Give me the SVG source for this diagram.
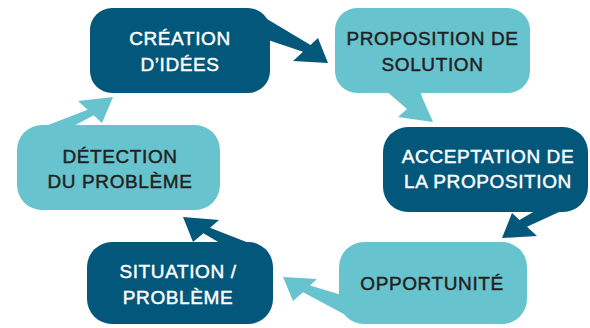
<svg xmlns="http://www.w3.org/2000/svg" width="590" height="328" viewBox="0 0 590 328">
<style>
.dark{fill:#03577A}
.light{fill:#67C3CE}
text{font-family:"Liberation Sans",Arial,sans-serif;font-size:19px;letter-spacing:0.6px;text-anchor:middle;stroke-width:0.45px}
.tw{fill:#FFFFFF;stroke:#FFFFFF}
.tk{fill:#231F20;stroke:#231F20}
</style>
<rect width="590" height="328" fill="#FFFFFF"/>
<g id="connectors">
<polygon class="dark" points="252,10 310.5,44.9 318,38 328,63 293,61 303,51.8 268,40"/>
<polygon class="light" points="385,90 407,109 398,117 433,122 422,97 420,90"/>
<polygon class="dark" points="540,208 519.5,220 512,213 502,238 537,236 527,226.8 570,207"/>
<polygon class="light" points="345,296 310,285.6 317,279 283,277 293,301 303,292.2 355,320"/>
<polygon class="dark" points="262,248 210,227.7 219,220 183,217 193,242 203.4,233.2 225,246"/>
<polygon class="light" points="30,132 87.6,109.8 78,101 113,97 102,123 93.6,115.3 70,128"/>
</g>
<g id="creation">
<rect class="dark" x="90" y="8" width="180" height="85" rx="22"/>
<text class="tw" x="180" y="45">CRÉATION</text>
<text class="tw" x="180" y="70.5">D’IDÉES</text>
</g>
<g id="proposition">
<rect class="light" x="335" y="8" width="195" height="85" rx="22"/>
<text class="tk" x="432.5" y="45">PROPOSITION DE</text>
<text class="tk" x="432.5" y="70.5">SOLUTION</text>
</g>
<g id="acceptation">
<rect class="dark" x="383" y="127" width="205" height="85" rx="25"/>
<text class="tw" x="488" y="163.3">ACCEPTATION DE</text>
<text class="tw" x="488" y="188.3">LA PROPOSITION</text>
</g>
<g id="opportunite">
<rect class="light" x="339" y="242" width="188" height="82" rx="25"/>
<text class="tk" x="432" y="290">OPPORTUNITÉ</text>
</g>
<g id="situation">
<rect class="dark" x="87" y="242" width="186" height="82" rx="25"/>
<text class="tw" x="178" y="278.3">SITUATION /</text>
<text class="tw" x="178" y="304">PROBLÈME</text>
</g>
<g id="detection">
<rect class="light" x="17" y="125" width="203" height="85" rx="25"/>
<text class="tk" x="120" y="163.3">DÉTECTION</text>
<text class="tk" x="120" y="188.3">DU PROBLÈME</text>
</g>
</svg>
